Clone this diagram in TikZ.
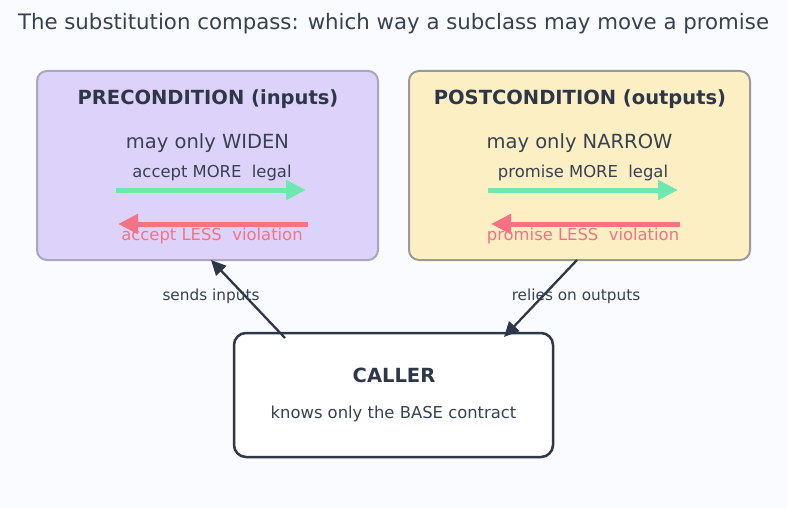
\documentclass[tikz,border=0pt]{standalone}
\usepackage{fontspec}
\setmainfont{DejaVu Sans}
\usetikzlibrary{arrows.meta}
\definecolor{bg}{HTML}{FAFBFE}
\definecolor{ink}{HTML}{374151}
\definecolor{dark}{HTML}{2D3748}
\definecolor{lav}{HTML}{DDD3FA}
\definecolor{lavline}{HTML}{A9A5C0}
\definecolor{cream}{HTML}{FDEFC4}
\definecolor{creamline}{HTML}{9A9A9A}
\definecolor{okgreen}{HTML}{6EE7B0}
\definecolor{badred}{HTML}{F87185}
\tikzset{
  panel/.style={rounded corners=10pt, line width=2pt, minimum width=341pt, minimum height=189pt, inner sep=0pt},
  callerbox/.style={rounded corners=12pt, line width=2.5pt, draw=dark, fill=white, minimum width=319pt, minimum height=124pt, inner sep=0pt},
  txt/.style={text=ink, inner sep=0pt, anchor=base},
  good/.style={draw=okgreen, line width=5pt, -{Triangle[length=20pt,width=19pt]}},
  bad/.style={draw=badred, line width=5pt, -{Triangle[length=20pt,width=19pt]}},
  link/.style={draw=dark, line width=2.3pt, -{Triangle[length=15pt,width=14pt]}},
  edgelabel/.style={text=ink, font=\fontsize{15.3}{18}\selectfont, inner sep=0pt}
}
\begin{document}
\begin{tikzpicture}[x=1pt,y=-1pt]
\fill[bg] (0,0) rectangle (787,508);
\useasboundingbox (0,0) rectangle (787,508);
\node[txt, font=\fontsize{21.3}{25}\selectfont] (title) at (393.5,30) {The substitution compass: which way a subclass may move a promise};

% left panel
\node[panel, draw=lavline, fill=lav] (pre) at (207.5,165.5) {};
\node[txt, text=dark, font=\bfseries\fontsize{19.5}{23}\selectfont] (pret) at (208,105) {PRECONDITION (inputs)};
\node[txt, font=\fontsize{19.5}{23}\selectfont] (prew) at (207.5,149) {may only WIDEN};
\node[txt, font=\fontsize{16.4}{19}\selectfont] (prem) at (212,177) {accept MORE\ \ legal};
\coordinate (pg1) at (116,190); \coordinate (pg2) at (306,190);
\draw[good] (pg1) -- (pg2);
\coordinate (pr1) at (308,224); \coordinate (pr2) at (118,224);
\draw[bad] (pr1) -- (pr2);
\node[txt, text=badred, font=\fontsize{16.4}{19}\selectfont] (prel) at (212,240) {accept LESS\ \ violation};

% right panel
\node[panel, draw=creamline, fill=cream] (post) at (579.5,165.5) {};
\node[txt, text=dark, font=\bfseries\fontsize{19.5}{23}\selectfont] (postt) at (580,105) {POSTCONDITION (outputs)};
\node[txt, font=\fontsize{19.5}{23}\selectfont] (postw) at (579.5,149) {may only NARROW};
\node[txt, font=\fontsize{16.4}{19}\selectfont] (postm) at (583,177) {promise MORE\ \ legal};
\coordinate (qg1) at (488,190); \coordinate (qg2) at (678,190);
\draw[good] (qg1) -- (qg2);
\coordinate (qr1) at (680,224); \coordinate (qr2) at (491,224);
\draw[bad] (qr1) -- (qr2);
\node[txt, text=badred, font=\fontsize{16.4}{19}\selectfont] (postl) at (583,240) {promise LESS\ \ violation};

% caller
\node[callerbox] (caller) at (393.5,395) {};
\node[txt, text=dark, font=\bfseries\fontsize{19.5}{23}\selectfont] (callt) at (394,382) {CALLER};
\node[txt, font=\fontsize{16.4}{19}\selectfont] (calls) at (393.5,418) {knows only the BASE contract};

% links
\coordinate (ca) at (285,338);
\coordinate (pa) at (211,260);
\draw[link] (ca) -- (pa);
\coordinate (pb) at (577,260);
\coordinate (cb) at (504,337);
\draw[link] (pb) -- (cb);
\node[edgelabel] (l1) at (211,296) {sends inputs};
\node[edgelabel] (l2) at (576,296) {relies on outputs};
\end{tikzpicture}
\end{document}
